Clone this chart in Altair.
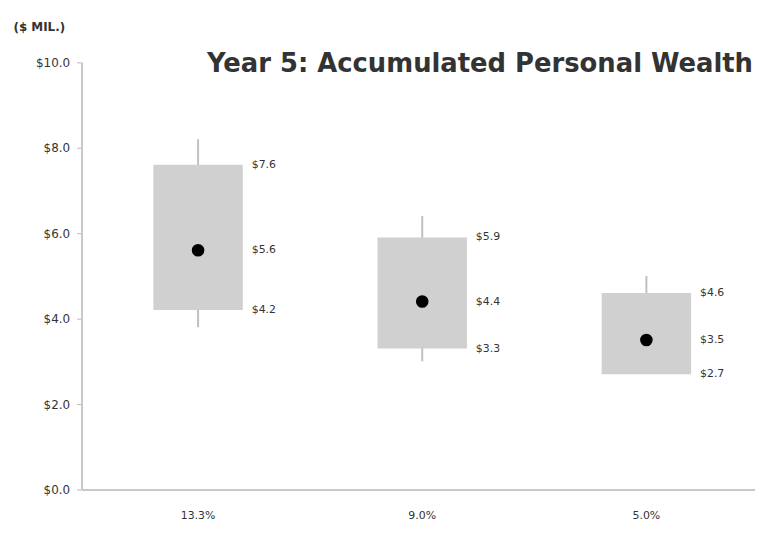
import altair as alt
import pandas as pd

categories = ["13.3%", "9.0%", "5.0%"]
box_low = [4.2, 3.3, 2.7]
box_high = [7.6, 5.9, 4.6]
median = [5.6, 4.4, 3.5]
whisker_low = [3.8, 3.0, 2.7]
whisker_high = [8.2, 6.4, 5.0]
title_text = ["Year 5: Accumulated Personal Wealth"]

df = pd.DataFrame({
    "cat": categories,
    "low": box_low,
    "high": box_high,
    "mid": median,
    "wlow": whisker_low,
    "whigh": whisker_high,
})

lab_rows = []
for c, lo, hi, m in zip(categories, box_low, box_high, median):
    for v in (lo, m, hi):
        lab_rows.append({"cat": c, "v": v, "t": f"${v:.1f}"})
labels = pd.DataFrame(lab_rows)
title_df = pd.DataFrame({"t": title_text})

FONT = "DejaVu Sans"
W, H = 676, 430

xscale = alt.Scale(paddingInner=0, paddingOuter=0.02, range=[0, 686])
x = alt.X("cat:N", sort=categories, title=None, scale=xscale,
          axis=alt.Axis(labelAngle=0, ticks=False, labelPadding=20,
                        labelFont=FONT, labelFontSize=11, labelColor="#333333",
                        domainColor="#c8c8c8", domainWidth=2))
yscale = alt.Scale(domain=[0, 10], nice=False)
yaxis = alt.Axis(values=[0, 2, 4, 6, 8, 10], format="$.1f", grid=False,
                 labelFont=FONT, labelFontSize=12, labelColor="#333333",
                 labelPadding=7, tickColor="#bbbbbb", tickSize=5,
                 domainColor="#c8c8c8", domainWidth=2,
                 title="($ MIL.)", titleAngle=0, titleAlign="left",
                 titleBaseline="middle", titleX=-69, titleY=-36,
                 titleFont=FONT, titleFontSize=12, titleFontWeight="bold",
                 titleColor="#333333")

base = alt.Chart(df)

whisk = base.mark_rule(color="#c0c0c0", strokeWidth=2).encode(
    x=x, y=alt.Y("wlow:Q", scale=yscale, axis=yaxis), y2="whigh:Q")
box = base.mark_bar(color="#d0d0d0", size=90).encode(
    x=x, y=alt.Y("low:Q", scale=yscale), y2="high:Q")
dot = base.mark_point(filled=True, color="#000000", size=160, opacity=1).encode(
    x=x, y=alt.Y("mid:Q", scale=yscale))
txt = alt.Chart(labels).mark_text(align="left", baseline="middle", dx=54,
                                  font=FONT, fontSize=11, color="#333333").encode(
    x=alt.X("cat:N", sort=categories, scale=xscale),
    y=alt.Y("v:Q", scale=yscale), text="t:N")
ttl = alt.Chart(title_df).mark_text(align="right", baseline="alphabetic",
                                    font=FONT, fontSize=26, fontWeight="bold",
                                    color="#333333").encode(
    x=alt.value(W), y=alt.value(10), text="t:N")

chart = alt.layer(whisk, box, dot, txt, ttl).properties(
    width=W, height=H,
    autosize=alt.AutoSizeParams(type="none"),
    padding={"left": 74, "top": 53, "right": 2, "bottom": 31},
    background="#ffffff",
).configure_view(stroke=None)

chart.save("out.html", embed_options={"renderer": "svg", "actions": False})
